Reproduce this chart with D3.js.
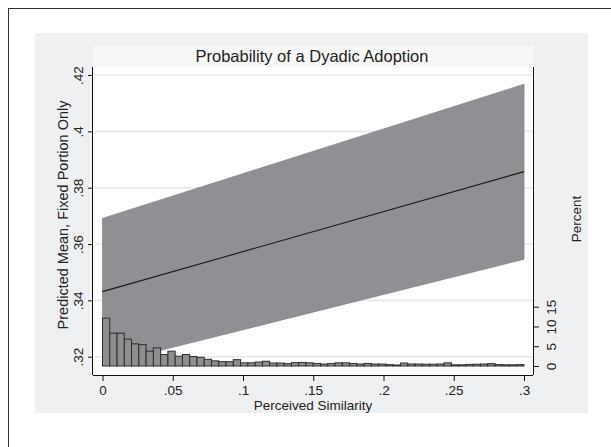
<!DOCTYPE html>
<html>
<head>
<meta charset="utf-8">
<script src="https://cdn.jsdelivr.net/npm/d3@7"></script>
<style>
  body { margin: 0; background: #fff; }
  text { font-family: "Liberation Sans", Arial, sans-serif; fill: #222; }
</style>
</head>
<body>
<div id="chart"></div>
<script>
// predicted mean with confidence band, read at both ends of the x range
const bandX = [0, 0.3];
const fitMean = [0.3431, 0.3857];
const ciLower = [0.3171, 0.3546];
const ciUpper = [0.3691, 0.4167];

// histogram of perceived similarity (percent per bin)
const binStart = 0;
const binEnd = 0.3;
const binPercent = [
    12.1, 8.3, 8.3, 6.8, 5.6, 5.4, 3.75, 4.6, 2.9, 3.75,
    2.5, 2.9, 2.4, 2.2, 1.7, 1.3, 1.1, 1.1, 1.6, 0.8,
    0.8, 1.0, 1.2, 0.75, 0.75, 0.6, 0.85, 0.9, 0.8, 0.65,
    0.5, 0.6, 0.8, 0.8, 0.65, 0.5, 0.65, 0.5, 0.5, 0.35,
    0.25, 0.75, 0.5, 0.5, 0.45, 0.45, 0.5, 0.8, 0.3, 0.3,
    0.4, 0.45, 0.5, 0.6, 0.35, 0.3, 0.3, 0.35
];

const xTicks = [0, 0.05, 0.1, 0.15, 0.2, 0.25, 0.3];
const yTicks = [0.32, 0.34, 0.36, 0.38, 0.4, 0.42];
const pctTicks = [0, 5, 10, 15];

const width = 611, height = 447;
const plot = { left: 93, right: 533, top: 67, bottom: 375 };

const svg = d3.select("#chart").append("svg")
    .attr("width", width)
    .attr("height", height);

// outer frame
svg.append("rect")
    .attr("x", 8.5).attr("y", 8.5)
    .attr("width", 700).attr("height", 600)
    .attr("fill", "#fff")
    .attr("stroke", "#333")
    .attr("stroke-width", 1);

// graph region
svg.append("rect")
    .attr("x", 35).attr("y", 33)
    .attr("width", 553).attr("height", 380)
    .attr("fill", "#eff0f1");

// title box + plot region
svg.append("rect")
    .attr("x", plot.left).attr("y", 46)
    .attr("width", plot.right - plot.left).attr("height", plot.top - 46)
    .attr("fill", "#f8f8f8");
svg.append("rect")
    .attr("x", plot.left).attr("y", plot.top)
    .attr("width", plot.right - plot.left).attr("height", plot.bottom - plot.top)
    .attr("fill", "#fff");

const x = d3.scaleLinear().domain([0, 0.3]).range([102.5, 524]);
const y = d3.scaleLinear().domain([0.32, 0.42]).range([356.7, 75]);
const yPct = d3.scaleLinear().domain([0, 15]).range([366, 306.7]);

// grid lines
svg.append("g")
    .selectAll("line")
    .data(yTicks)
    .enter().append("line")
    .attr("x1", plot.left + 1)
    .attr("x2", plot.right)
    .attr("y1", d => y(d))
    .attr("y2", d => y(d))
    .attr("stroke", "#e8e8ea")
    .attr("stroke-width", 1.6);

// confidence band
const bandData = bandX.map((v, i) => ({ x: v, lo: ciLower[i], hi: ciUpper[i], m: fitMean[i] }));

const area = d3.area()
    .x(d => x(d.x))
    .y0(d => y(d.lo))
    .y1(d => y(d.hi));

svg.append("path")
    .datum(bandData)
    .attr("d", area)
    .attr("fill", "#8f9094")
    .attr("stroke", "#86878b")
    .attr("stroke-width", 0.8);

const line = d3.line()
    .x(d => x(d.x))
    .y(d => y(d.m));

svg.append("path")
    .datum(bandData)
    .attr("d", line)
    .attr("fill", "none")
    .attr("stroke", "#1a1a1a")
    .attr("stroke-width", 1.1);

// histogram
const binW = (binEnd - binStart) / binPercent.length;
svg.append("g")
    .selectAll("rect")
    .data(binPercent)
    .enter().append("rect")
    .attr("x", (d, i) => x(binStart + i * binW))
    .attr("width", (d, i) => x(binStart + (i + 1) * binW) - x(binStart + i * binW))
    .attr("y", d => yPct(d))
    .attr("height", d => yPct(0) - yPct(d))
    .attr("fill", "#8e8e90")
    .attr("stroke", "#2e2e2e")
    .attr("stroke-width", 1);

// x axis
const xAxis = d3.axisBottom(x)
    .tickValues(xTicks)
    .tickSize(6)
    .tickPadding(4)
    .tickFormat(d => d === 0 ? "0" : d3.format(".2~f")(d).replace(/^0/, ""));

const gx = svg.append("g")
    .attr("transform", "translate(0," + plot.bottom + ")")
    .call(xAxis);
gx.select(".domain").attr("d", "M" + plot.left + ",0.5H" + plot.right).attr("stroke", "#111");
gx.selectAll(".tick line").attr("stroke", "#111");
gx.selectAll(".tick text").style("font-size", "13.5px").attr("fill", "#222");

// left y axis
const yAxis = d3.axisLeft(y)
    .tickValues(yTicks)
    .tickSize(5)
    .tickFormat(d => d3.format(".2~f")(d).replace(/^0/, ""));

const gy = svg.append("g")
    .attr("transform", "translate(" + plot.left + ",0)")
    .call(yAxis);
gy.select(".domain").attr("d", "M-0.5," + plot.top + "V" + plot.bottom).attr("stroke", "#111");
gy.selectAll(".tick line").attr("stroke", "#111");
gy.selectAll(".tick text")
    .style("font-size", "13.5px")
    .attr("text-anchor", "middle")
    .attr("x", 0).attr("dy", 0)
    .attr("transform", "translate(-10,0) rotate(-90)")
    .attr("y", 0);

// right y axis (percent)
const yAxisR = d3.axisRight(yPct)
    .tickValues(pctTicks)
    .tickSize(6);

const gr = svg.append("g")
    .attr("transform", "translate(" + plot.right + ",0)")
    .call(yAxisR);
gr.select(".domain").attr("d", "M0.5," + plot.top + "V" + plot.bottom).attr("stroke", "#111");
gr.selectAll(".tick line").attr("stroke", "#111");
gr.selectAll(".tick text")
    .style("font-size", "13.5px")
    .attr("text-anchor", "middle")
    .attr("x", 0).attr("dy", 0)
    .attr("transform", "translate(23,0) rotate(-90)")
    .attr("y", 0);

// titles
svg.append("text")
    .attr("x", 312).attr("y", 62)
    .attr("text-anchor", "middle")
    .style("font-size", "16.5px")
    .text("Probability of a Dyadic Adoption");

svg.append("text")
    .attr("x", 313).attr("y", 410)
    .attr("text-anchor", "middle")
    .style("font-size", "13.5px")
    .text("Perceived Similarity");

svg.append("text")
    .attr("transform", "translate(68,215) rotate(-90)")
    .attr("text-anchor", "middle")
    .style("font-size", "14.5px")
    .text("Predicted Mean, Fixed Portion Only");

svg.append("text")
    .attr("transform", "translate(581,219) rotate(-90)")
    .attr("text-anchor", "middle")
    .style("font-size", "13.5px")
    .text("Percent");
</script>
</body>
</html>
